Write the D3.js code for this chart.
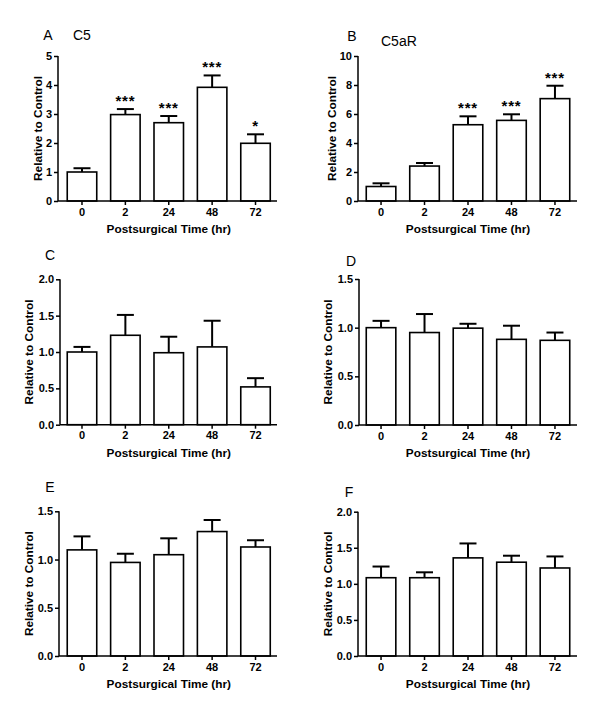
<!DOCTYPE html>
<html><head><meta charset="utf-8">
<script src="https://cdn.jsdelivr.net/npm/d3@7"></script>
<style>
html,body{margin:0;padding:0;background:#fff;}
text{font-family:"Liberation Sans",Arial,sans-serif;}
</style></head>
<body>
<svg id="chart" width="600" height="713"></svg>
<script>
// ---- data ----
const categories = ["0", "2", "24", "48", "72"];
const xAxisTitle = "Postsurgical Time (hr)";
const yAxisTitle = "Relative to Control";

const c5Mean = [1.0, 2.98, 2.70, 3.92, 1.99];
const c5Sem = [0.13, 0.19, 0.23, 0.41, 0.31];
const c5Sig = ["", "***", "***", "***", "*"];
const c5Ticks = [0, 1, 2, 3, 4, 5];

const c5aRMean = [1.0, 2.41, 5.26, 5.56, 7.06];
const c5aRSem = [0.22, 0.21, 0.58, 0.42, 0.89];
const c5aRSig = ["", "", "***", "***", "***"];
const c5aRTicks = [0, 2, 4, 6, 8, 10];

const cMean = [1.0, 1.23, 0.99, 1.07, 0.52];
const cSem = [0.07, 0.28, 0.22, 0.36, 0.12];
const cTicks = [0, 0.5, 1.0, 1.5, 2.0];

const dMean = [1.0, 0.95, 0.995, 0.88, 0.87];
const dSem = [0.07, 0.19, 0.045, 0.14, 0.08];
const dTicks = [0, 0.5, 1.0, 1.5];

const eMean = [1.10, 0.97, 1.05, 1.29, 1.13];
const eSem = [0.14, 0.09, 0.17, 0.12, 0.07];
const eTicks = [0, 0.5, 1.0, 1.5];

const fMean = [1.085, 1.085, 1.36, 1.30, 1.22];
const fSem = [0.155, 0.075, 0.20, 0.09, 0.16];
const fTicks = [0, 0.5, 1.0, 1.5, 2.0];

// ---- layout ----
const panels = [
  {letter:"A", name:"C5", mean:c5Mean, sem:c5Sem, sig:c5Sig, ticks:c5Ticks, fmt:d3.format("d"),
   axisX:58, top:56, bot:201, band:[60.3,277.2], xEnd:277, ylabX:38,
   letterPos:[48,35], namePos:[73,35]},
  {letter:"B", name:"C5aR", mean:c5aRMean, sem:c5aRSem, sig:c5aRSig, ticks:c5aRTicks, fmt:d3.format("d"),
   axisX:358, top:56, bot:201, band:[359.3,576.7], xEnd:577, ylabX:332,
   letterPos:[352,36], namePos:[381,41]},
  {letter:"C", name:"", mean:cMean, sem:cSem, sig:null, ticks:cTicks, fmt:d3.format(".1f"),
   axisX:60, top:279.3, bot:424.7, band:[60.3,277.2], xEnd:277, ylabX:29,
   letterPos:[50,255]},
  {letter:"D", name:"", mean:dMean, sem:dSem, sig:null, ticks:dTicks, fmt:d3.format(".1f"),
   axisX:359, top:279, bot:425, band:[359.3,576.7], xEnd:577, ylabX:328,
   letterPos:[351,261]},
  {letter:"E", name:"", mean:eMean, sem:eSem, sig:null, ticks:eTicks, fmt:d3.format(".1f"),
   axisX:59, top:511.3, bot:656, band:[60.3,277.2], xEnd:277, ylabX:29,
   letterPos:[50,487]},
  {letter:"F", name:"", mean:fMean, sem:fSem, sig:null, ticks:fTicks, fmt:d3.format(".1f"),
   axisX:358, top:511.7, bot:656, band:[359.3,576.7], xEnd:577, ylabX:328,
   letterPos:[349,492]}
];

const svg = d3.select("#chart");

panels.forEach(p => {
  const g = svg.append("g");
  const x = d3.scaleBand().domain(categories).range(p.band).paddingInner(0.32).paddingOuter(0.16);
  const y = d3.scaleLinear().domain([0, d3.max(p.ticks)]).range([p.bot, p.top]);

  const data = categories.map((c,i)=>({c, m:p.mean[i], s:p.sem[i], sig:p.sig ? p.sig[i] : ""}));
  g.selectAll(".err").data(data).enter().append("line")
    .attr("x1", d=>x(d.c)+x.bandwidth()/2).attr("x2", d=>x(d.c)+x.bandwidth()/2)
    .attr("y1", d=>y(d.m)).attr("y2", d=>y(d.m+d.s))
    .attr("stroke","#000").attr("stroke-width",2);
  g.selectAll(".cap").data(data).enter().append("line")
    .attr("x1", d=>x(d.c)+x.bandwidth()/2-8.5).attr("x2", d=>x(d.c)+x.bandwidth()/2+8.5)
    .attr("y1", d=>y(d.m+d.s)).attr("y2", d=>y(d.m+d.s))
    .attr("stroke","#000").attr("stroke-width",2);
  g.selectAll(".bar").data(data).enter().append("rect")
    .attr("x", d=>x(d.c)).attr("width", x.bandwidth())
    .attr("y", d=>y(d.m)).attr("height", d=>p.bot - y(d.m))
    .attr("fill","#fff").attr("stroke","#000").attr("stroke-width",1.6);

  g.selectAll(".sig").data(data.filter(d=>d.sig)).enter().append("text")
    .attr("x", d=>x(d.c)+x.bandwidth()/2)
    .attr("y", d=>y(d.m+d.s)-3)
    .attr("text-anchor","middle")
    .attr("font-size",15).attr("font-weight","bold").attr("letter-spacing","0.8px")
    .text(d=>d.sig);

  const ya = d3.axisLeft(y).tickValues(p.ticks).tickFormat(p.fmt).tickSize(4).tickPadding(2);
  const yg = g.append("g").attr("transform",`translate(${p.axisX},0)`).call(ya);
  yg.select(".domain").attr("stroke-width",1.5).attr("d",`M0,${p.top}V${p.bot}`);
  yg.selectAll(".tick line").attr("stroke-width",1.5);
  yg.selectAll(".tick text").attr("font-size",11).attr("font-weight","bold")
    .attr("font-family","'Liberation Sans',Arial,sans-serif").attr("fill","#000");

  const xa = d3.axisBottom(x).tickSize(4).tickPadding(3);
  const xg = g.append("g").attr("transform",`translate(0,${p.bot})`).call(xa);
  xg.select(".domain").attr("stroke-width",1.5).attr("d",`M${p.axisX},0H${p.xEnd}`);
  xg.selectAll(".tick line").attr("stroke-width",1.5);
  xg.selectAll(".tick text").attr("font-size",11).attr("font-weight","bold")
    .attr("font-family","'Liberation Sans',Arial,sans-serif").attr("fill","#000");

  g.append("text")
    .attr("x",(p.band[0]+p.band[1])/2).attr("y",p.bot+28)
    .attr("dy","0.35em").attr("text-anchor","middle")
    .attr("font-size",11.8).attr("font-weight","bold").text(xAxisTitle);
  g.append("text")
    .attr("transform",`translate(${p.ylabX},${(p.top+p.bot)/2}) rotate(-90)`)
    .attr("dy","0.35em").attr("text-anchor","middle")
    .attr("font-size",11.8).attr("font-weight","bold").text(yAxisTitle);

  g.append("text").attr("x",p.letterPos[0]).attr("y",p.letterPos[1]).attr("dy","0.35em")
    .attr("text-anchor","middle").attr("font-size",14).text(p.letter);
  if (p.name) {
    g.append("text").attr("x",p.namePos[0]).attr("y",p.namePos[1]).attr("dy","0.35em")
      .attr("font-size",14).text(p.name);
  }
});
</script>
</body></html>
